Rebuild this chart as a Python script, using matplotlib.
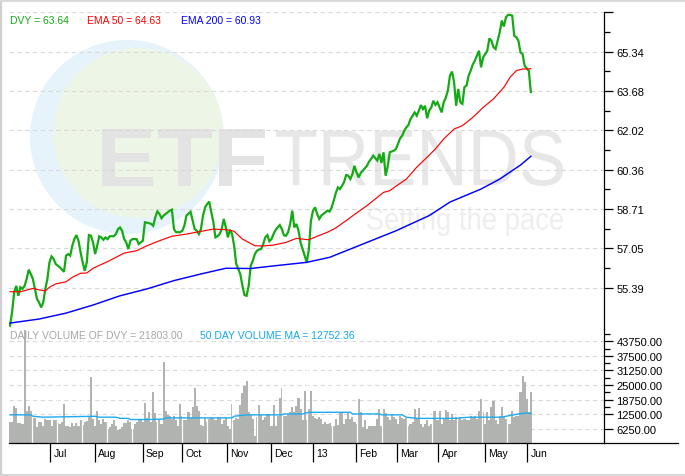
import matplotlib
matplotlib.use('Agg')
import matplotlib.pyplot as plt
from matplotlib.transforms import Affine2D, offset_copy
from matplotlib.textpath import TextPath
from matplotlib.patches import PathPatch, Circle
from matplotlib.font_manager import FontProperties
from matplotlib.lines import Line2D

# ---------------- data ----------------
price_day = [0, 1, 2, 3, 4, 5, 6, 7, 8, 9,
             10, 11, 12, 13, 14, 15, 16, 17, 18, 19,
             20, 21, 22, 24, 26, 27, 28, 29, 30, 31,
             32, 33, 34, 35, 36, 37, 38, 39, 40, 41,
             42, 43, 44, 45, 46, 47, 48, 50, 51, 52,
             53, 54, 55, 56, 57, 58, 59, 61, 62, 63,
             64, 65, 67, 68, 69, 70, 71, 72, 73, 74,
             75, 77, 78, 79, 80, 82, 83, 84, 85, 87,
             88, 89, 90, 91, 92, 93, 94, 95, 96, 97,
             98, 99, 100, 101, 102, 103, 104, 105, 106, 107,
             108, 109, 110, 111, 112, 113, 114, 115, 116, 117,
             118, 119, 120, 121, 122, 123, 124, 125, 126, 127,
             128, 130, 131, 132, 133, 134, 135, 136, 137, 138,
             139, 140, 141, 142, 143, 144, 145, 146, 147, 148,
             149, 150, 152, 153, 154, 155, 156, 157, 158, 159,
             160, 161, 162, 163, 164, 165, 166, 167, 168, 169,
             170, 172, 173, 174, 175, 177, 178, 179, 180, 181,
             182, 183, 185, 186, 188, 189, 190, 191, 192, 193,
             194, 195, 196, 197, 198, 199, 200, 201, 202, 203,
             204, 205, 206, 207, 208, 209, 210, 211, 212, 213,
             214, 215, 216, 217, 218, 219, 220, 221, 222, 223,
             224, 225, 226, 227, 228, 229, 230, 231, 232, 233,
             234, 235, 236, 237, 238, 239, 240, 241, 242, 243,
             244, 245, 246, 247, 248, 249, 250, 251]
dvy = [53.79, 54.37, 55.21, 55.47, 55.05, 55.41, 55.34, 55.47, 55.76, 56.15,
       55.97, 55.76, 55.34, 54.91, 54.77, 54.56, 54.77, 55.34, 55.76, 56.46,
       56.71, 56.60, 56.39, 56.25, 56.06, 56.74, 56.81, 56.74, 57.16, 57.44,
       57.61, 57.37, 56.88, 56.46, 56.10, 56.46, 57.61, 57.58, 57.30, 56.81,
       57.16, 57.56, 57.51, 57.41, 57.51, 57.44, 57.56, 57.56, 57.65, 57.86,
       57.93, 57.79, 57.44, 57.30, 57.02, 57.37, 57.44, 57.44, 57.23, 57.30,
       57.37, 58.15, 58.11, 58.08, 58.00, 58.36, 58.61, 58.50, 58.32, 58.43,
       58.50, 58.64, 58.68, 57.86, 57.73, 57.73, 57.79, 58.00, 58.43, 58.59,
       58.22, 57.86, 57.79, 57.65, 57.86, 58.43, 58.78, 58.92, 59.02, 58.57,
       58.15, 57.51, 57.56, 57.65, 57.86, 58.29, 57.93, 57.51, 57.83, 57.65,
       57.16, 56.39, 56.18, 55.95, 55.47, 55.08, 55.05, 55.47, 56.32, 56.53,
       56.81, 56.95, 57.00, 57.02, 57.23, 57.51, 57.61, 57.35, 57.44, 57.65,
       57.83, 58.03, 57.86, 57.60, 57.58, 57.73, 58.08, 58.64, 57.93, 58.08,
       57.80, 57.30, 57.02, 56.74, 56.46, 57.00, 58.20, 58.64, 58.78, 58.50,
       58.29, 58.43, 58.57, 58.64, 58.60, 58.78, 59.06, 59.38, 59.62, 59.55,
       59.69, 59.85, 60.14, 60.11, 59.97, 60.18, 60.53, 60.25, 60.04, 60.23,
       60.32, 60.53, 60.70, 60.82, 60.96, 60.75, 61.03, 60.65, 61.10, 60.11,
       60.50, 61.10, 61.17, 61.24, 61.69, 61.80, 62.01, 62.15, 62.25, 62.50,
       62.64, 62.78, 62.64, 62.85, 63.09, 62.92, 63.06, 62.53, 62.85, 62.99,
       63.27, 63.10, 63.21, 62.99, 62.78, 63.21, 63.40, 63.70, 64.33, 64.50,
       64.05, 63.06, 63.77, 63.21, 63.14, 63.85, 63.91, 64.33, 64.54, 64.80,
       64.96, 65.17, 65.38, 64.68, 65.10, 65.24, 65.38, 65.90, 65.80, 65.53,
       65.45, 65.80, 66.16, 66.65, 66.40, 66.79, 66.89, 66.89, 66.86, 66.01,
       65.95, 65.80, 65.31, 65.24, 64.75, 64.64, 64.54, 63.64]

ema50_day = [0, 5, 11, 14, 17, 19, 22, 27, 30, 34,
             37, 40, 47, 51, 55, 61, 66, 72, 78, 85,
             91, 98, 104, 108, 112, 118, 122, 127, 133, 138,
             144, 148, 153, 157, 162, 167, 172, 177, 180, 183,
             186, 191, 196, 201, 205, 209, 214, 218, 223, 228,
             233, 238, 241, 244, 247, 250, 251]
ema50 = [55.22, 55.22, 55.36, 55.30, 55.26, 55.41, 55.55, 55.64, 55.83, 56.00,
         56.01, 56.21, 56.49, 56.67, 56.85, 56.95, 57.16, 57.37, 57.56, 57.65,
         57.75, 57.86, 57.84, 57.77, 57.44, 57.16, 57.15, 57.19, 57.30, 57.47,
         57.41, 57.56, 57.73, 57.91, 58.22, 58.54, 58.85, 59.20, 59.41, 59.48,
         59.67, 59.97, 60.47, 60.89, 61.24, 61.66, 62.08, 62.22, 62.57, 62.99,
         63.35, 63.84, 64.26, 64.54, 64.61, 64.61, 64.63]

ema200_day = [0, 14, 27, 40, 53, 66, 79, 92, 104, 116, 125, 143,
              154, 162, 170, 178, 186, 194, 202, 212, 227, 236, 246, 251]
ema200 = [53.90, 54.07, 54.32, 54.66, 55.05, 55.34, 55.69, 55.97, 56.21, 56.20, 56.29, 56.46,
          56.67, 56.95, 57.23, 57.51, 57.79, 58.11, 58.43, 59.00, 59.55, 59.97, 60.56, 60.93]

volume = [9000, 9000, 15900, 15000, 8700, 8700, 8300, 48500, 14000, 15900,
          14000, 10700, 10700, 6900, 9300, 9300, 7600, 10400, 9800, 9800,
          7600, 10000, 10200, 8500, 8200, 9000, 16900, 7600, 7600, 6900,
          8600, 7600, 8800, 7600, 10200, 8000, 9000, 9700, 11600, 28500,
          10400, 7600, 14000, 10000, 8300, 10400, 9000, 6200, 6900, 8300,
          9800, 7600, 5500, 6200, 7000, 8500, 8500, 9800, 9000, 6200,
          8300, 9300, 9800, 10400, 9000, 17300, 11000, 13300, 9000, 22000,
          12900, 9000, 10400, 8300, 35000, 14000, 12200, 11600, 10400, 11600,
          9800, 7600, 16900, 11600, 9800, 9800, 13300, 10700, 15400, 23600,
          16200, 14000, 7900, 7600, 10700, 9000, 10400, 11200, 10700, 9800,
          11200, 11200, 8300, 9800, 11200, 7600, 6200, 16900, 9800, 10700,
          10400, 16400, 21400, 24700, 26900, 13300, 12000, 10400, 3300, 11200,
          16400, 12000, 9800, 11200, 12600, 12600, 7600, 16400, 7600, 11600,
          19300, 23600, 11600, 11600, 12600, 13300, 15400, 13300, 16200, 19300,
          14600, 9800, 22600, 10000, 14600, 22600, 11900, 11000, 10400, 11200,
          10400, 8300, 9000, 8300, 8600, 7600, 7600, 10400, 7900, 13300,
          12900, 8300, 10400, 13300, 10400, 11200, 9000, 8300, 19000, 13300,
          6900, 9800, 6200, 7600, 7600, 7600, 7600, 10400, 14700, 7600,
          14700, 12900, 11200, 9800, 12600, 11200, 10400, 8300, 11900, 10700,
          10400, 10700, 7600, 8300, 9000, 14700, 10400, 15200, 8300, 6900,
          8300, 9800, 7600, 8300, 14000, 14000, 9800, 14000, 8300, 10400,
          14400, 13300, 9800, 12600, 9800, 11200, 10400, 11200, 9800, 10400,
          10000, 9800, 11600, 11200, 11900, 10400, 14000, 19000, 13300, 8300,
          13600, 9800, 15400, 18300, 9800, 8300, 11900, 15400, 11200, 10400,
          8300, 8300, 14000, 11200, 11900, 11900, 21900, 29000, 26200, 19000,
          13300, 21803]

ma_day = [0, 10, 11, 16, 41, 43, 51, 53, 57, 58, 66, 74, 75, 107, 108, 114, 125, 131,
          132, 141, 144, 164, 165, 178, 179, 189, 191, 196, 215, 218, 222, 237, 239, 245, 249, 251]
vol_ma = [12200, 12200, 11600, 11200, 11600, 11200, 11200, 10700, 10700, 10200, 10200, 10400,
          10900, 10900, 11600, 12200, 12200, 12200, 12600, 12600, 13300, 13300, 12600, 12600,
          12200, 12200, 11200, 10700, 10700, 11000, 11200, 11200, 11600, 12600, 13000, 12752]

month_pos = [19.4, 40.8, 63.9, 83.0, 104.6, 125.8, 146.0, 166.6, 186.3, 206.4, 229.0, 249.3]
month_labels = ['Jul', 'Aug', 'Sep', 'Oct', 'Nov', 'Dec', '13', 'Feb', 'Mar', 'Apr', 'May', 'Jun']

price_ticks = [55.39, 57.05, 58.71, 60.36, 62.02, 63.68, 65.34, 67.00]
price_labels = ['55.39', '57.05', '58.71', '60.36', '62.02', '63.68', '65.34', '']
vol_ticks = [6250, 12500, 18750, 25000, 31250, 37500, 43750]
vol_labels = ['6250.00', '12500.00', '18750.00', '25000.00', '31250.00', '37500.00', '43750.00']

# ---------------- figure ----------------
W, H = 685, 477
plt.rcParams['font.family'] = ['Liberation Sans', 'DejaVu Sans']
fig = plt.figure(figsize=(W / 100, H / 100), dpi=100)
fig.patch.set_facecolor('white')
px = Affine2D().scale(1 / W, -1 / H).translate(0, 1) + fig.transFigure

# watermark
fig.add_artist(Circle((127, 138), 97, transform=px, facecolor='#e6f3fb', edgecolor='none', zorder=-3))
fig.add_artist(Circle((138, 134), 85, transform=px, facecolor='#edf6e6', edgecolor='none', zorder=-2))


def fit_text(s, x0, y0, x1, y1, color, weight='normal'):
    fp = FontProperties(family='Liberation Sans', weight=weight)
    tp = TextPath((0, 0), s, size=100, prop=fp)
    bb = tp.get_extents()
    tr = (Affine2D().translate(-bb.x0, -bb.y0)
          .scale((x1 - x0) / bb.width, -(y1 - y0) / bb.height)
          .translate(x0, y1) + px)
    fig.add_artist(PathPatch(tp, transform=tr, facecolor=color, edgecolor='none', zorder=-1))


fit_text('ETF', 102, 130, 265, 187, '#e3e3e3', weight='bold')
fit_text('TRENDS', 276, 131, 563, 187, '#e7e7e7')
fit_text('Setting the pace', 367, 208, 563, 237, '#eeeeee')

# axes
left, right = 9, 604
ax1 = fig.add_axes([left / W, 1 - 330 / H, (right - left) / W, (330 - 13.3) / H])
ax2 = fig.add_axes([left / W, 1 - 444.3 / H, (right - left) / W, (444.3 - 330) / H])
xmax = -0.5 + (right - left) / 2.075
dash = (0, (4, 3))
grid_c = '#d9d9d9'

for ax in (ax1, ax2):
    ax.set_facecolor('none')
    ax.set_xlim(-0.5, xmax)
    ax.spines['top'].set_visible(False)
    ax.spines['left'].set_visible(False)
    ax.spines['right'].set_color('black')
    ax.spines['right'].set_linewidth(0.9)
    ax.yaxis.tick_right()

ax1.spines['bottom'].set_visible(False)
ax2.spines['bottom'].set_color('black')
ax2.spines['bottom'].set_linewidth(0.9)

# price panel
ax1.set_ylim(53.65, 67.0)
ax1.set_yticks(price_ticks)
ax1.set_yticklabels(price_labels)
ax1.set_yticks([(a + b) / 2 for a, b in zip(price_ticks[:-1], price_ticks[1:])], minor=True)
ax1.tick_params(axis='x', which='both', bottom=False, labelbottom=False)
ax1.tick_params(axis='y', which='major', length=6.5, width=0.9, pad=2.5, labelsize=8, colors='black')
ax1.tick_params(axis='y', which='minor', length=4.3, width=0.9)
for t in price_ticks:
    ax1.axhline(t, color=grid_c, lw=0.8, ls=dash, zorder=0.5)

ax1.plot(price_day, dvy, color='#14aa14', lw=1.6, solid_joinstyle='miter', zorder=3)
ax1.plot(ema50_day, ema50, color='#ff0000', lw=0.85, zorder=4)
ax1.plot(ema200_day, ema200, color='#0000ff', lw=1.05, zorder=5)

fs = 7.5
fig.text(10, 20.5, 'DVY = 63.64', transform=px, color='#14aa14', fontsize=fs, va='center', ha='left')
fig.text(87, 20.5, 'EMA 50 = 64.63', transform=px, color='#ff0000', fontsize=fs, va='center', ha='left')
fig.text(181, 20.5, 'EMA 200 = 60.93', transform=px, color='#0000ff', fontsize=fs, va='center', ha='left')

# volume panel
ax2.set_ylim(0, 49035)
ax2.set_yticks(vol_ticks)
ax2.set_yticklabels(vol_labels)
ax2.set_yticks([t + 3125 for t in vol_ticks[1:]], minor=True)
ax2.tick_params(axis='y', which='major', length=6.5, width=0.9, pad=2.5, labelsize=8, colors='black')
ax2.tick_params(axis='y', which='minor', length=4.3, width=0.9)
for t in vol_ticks:
    ax2.axhline(t, color=grid_c, lw=0.8, ls=dash, zorder=0.5)

ax2.bar(range(len(volume)), volume, width=1.0, color='#b1b3b1', edgecolor='none', zorder=2)
sep = 10.6
while sep < 241:
    ax2.axvline(sep, color='white', lw=0.9, zorder=2.5)
    sep += 12.05
ax2.plot(ma_day, vol_ma, color='#1eaaee', lw=1.0, zorder=4)

ax2.set_xticks(month_pos)
ax2.set_xticklabels([''] * len(month_pos))
ax2.tick_params(axis='x', which='major', length=13.7, width=0.9, direction='out', colors='black')
lab_tr = offset_copy(ax2.get_xaxis_transform(), fig=fig, x=2.3, y=0, units='points')
for p, lab in zip(month_pos, month_labels):
    ax2.text(p, -0.085, lab, transform=lab_tr, fontsize=fs, ha='left', va='center', color='black')

fig.text(10, 336, 'DAILY VOLUME OF DVY = 21803.00', transform=px, color='#a6a6a6', fontsize=fs,
         va='center', ha='left', zorder=6)
fig.text(200, 336, '50 DAY VOLUME MA = 12752.36', transform=px, color='#12a8f0', fontsize=fs,
         va='center', ha='left', zorder=6)

# frame pieces
fig.add_artist(Line2D([604, 678], [444.3, 444.3], transform=px, color='black', lw=0.9))
fig.add_artist(Line2D([1.2, 1.2], [0, 476], transform=px, color='#cfcfcf', lw=1.6))
fig.add_artist(Line2D([0, 685], [475.5, 475.5], transform=px, color='#d4d4d4', lw=1.4))
fig.add_artist(Line2D([0, 685], [1.0, 1.0], transform=px, color='#d8d8d8', lw=2.0))

fig.savefig('out.png', dpi=100, facecolor='white')
